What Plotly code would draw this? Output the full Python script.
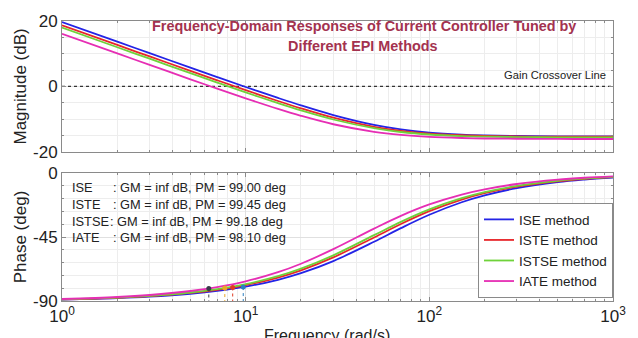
import plotly.graph_objects as go

# ---------------- data ----------------
freq = [1, 2, 3, 5, 7, 10, 15, 20, 30, 50, 70, 100, 150, 200, 300, 500, 700, 1000]

methods = ["ISE method", "ISTE method", "ISTSE method", "IATE method"]
colors = ["#2424e6", "#e8262a", "#6fd23a", "#e62eb4"]

mag_ise = [19.70, 13.68, 10.17, 5.75, 2.86, -0.17, -3.52, -5.80, -8.75, -11.75,
           -13.13, -14.10, -14.72, -14.96, -15.14, -15.24, -15.26, -15.28]
mag_iste = [18.70, 12.68, 9.17, 4.76, 1.88, -1.14, -4.46, -6.69, -9.54, -12.33,
            -13.56, -14.40, -14.92, -15.12, -15.27, -15.35, -15.37, -15.38]
mag_istse = [18.00, 11.98, 8.47, 4.06, 1.18, -1.82, -5.12, -7.33, -10.11, -12.77,
             -13.93, -14.70, -15.18, -15.36, -15.49, -15.56, -15.58, -15.59]
mag_iate = [16.10, 10.09, 6.58, 2.18, -0.68, -3.65, -6.87, -8.98, -11.56, -13.88,
            -14.82, -15.42, -15.77, -15.91, -16.00, -16.05, -16.07, -16.07]

ph_ise = [-88.98, -87.96, -86.94, -84.91, -82.90, -79.91, -75.06, -70.41, -61.91, -48.34,
          -38.76, -29.34, -20.54, -15.69, -10.61, -6.41, -4.59, -3.22]
ph_iste = [-88.87, -87.74, -86.61, -84.36, -82.12, -78.82, -73.49, -68.43, -59.34, -45.34,
           -35.87, -26.83, -18.64, -14.20, -9.57, -5.78, -4.14, -2.90]
ph_istse = [-88.80, -87.60, -86.41, -84.03, -81.67, -78.18, -72.58, -67.29, -57.89, -43.71,
            -34.33, -25.55, -17.68, -13.44, -9.05, -5.46, -3.91, -2.74]
ph_iate = [-88.59, -87.18, -85.77, -82.98, -80.22, -76.16, -69.72, -63.78, -53.54, -39.08,
           -30.11, -22.10, -15.14, -11.48, -7.71, -4.64, -3.32, -2.32]

# gain-crossover frequencies and phases (markers on the phase plot)
wc = [9.7, 8.5, 7.7, 6.3]
pc = [-80.2, -80.5, -80.9, -81.2]
marker_colors = ["#2a7fc0", "#e03a22", "#e8a628", "#3a3a4a"]

crossover_x = [1, 1000]
crossover_y = [0, 0]

info_labels = ["ISE", "ISTE", "ISTSE", "IATE"]
info_texts = [": GM = inf dB, PM = 99.00 deg",
              ": GM = inf dB, PM = 99.45 deg",
              ": GM = inf dB, PM = 99.18 deg",
              ": GM = inf dB, PM = 98.10 deg"]

x_tickvals = [1, 10, 100, 1000]
x_ticktext = ["10<sup>0</sup>", "10<sup>1</sup>", "10<sup>2</sup>", "10<sup>3</sup>"]

# ---------------- figure ----------------
W, H = 638, 338
ML, MR, MT, MB = 62, 18, 15, 32
PW, PH = W - ML - MR, H - MT - MB
FONT = "Liberation Sans, Arial, sans-serif"


def px_x(px):
    return (px - ML) / PW


def px_y(py):
    return (H - MB - py) / PH


fig = go.Figure()

mags = [mag_ise, mag_iste, mag_istse, mag_iate]
phs = [ph_ise, ph_iste, ph_istse, ph_iate]

fig.add_trace(go.Scatter(x=crossover_x, y=crossover_y, mode="lines",
                         line=dict(color="#333333", width=1.2, dash="dot"),
                         showlegend=False, hoverinfo="skip", xaxis="x", yaxis="y"))

for name, col, m in zip(methods, colors, mags):
    fig.add_trace(go.Scatter(x=freq, y=m, mode="lines", name=name,
                             line=dict(color=col, width=1.8, shape="spline"),
                             showlegend=False, xaxis="x", yaxis="y"))

for name, col, p in zip(methods, colors, phs):
    fig.add_trace(go.Scatter(x=freq, y=p, mode="lines", name=name,
                             line=dict(color=col, width=1.8, shape="spline"),
                             showlegend=True, xaxis="x2", yaxis="y2"))

for w, p, c in zip(wc, pc, marker_colors):
    fig.add_trace(go.Scatter(x=[w, w], y=[p, -90], mode="lines",
                             line=dict(color=c, width=1, dash="dot"),
                             showlegend=False, hoverinfo="skip", xaxis="x2", yaxis="y2"))
fig.add_trace(go.Scatter(x=wc, y=pc, mode="markers",
                         marker=dict(color=marker_colors, size=5),
                         showlegend=False, xaxis="x2", yaxis="y2"))

minor_x = [m * 10 ** e for e in range(3) for m in range(2, 10)]

axis_common = dict(showline=True, linecolor="#8a8a8a", linewidth=1, mirror="ticks",
                   ticks="inside", ticklen=4, tickcolor="#8a8a8a",
                   showgrid=True, gridcolor="#e0e0e0", gridwidth=1, zeroline=False,
                   tickfont=dict(family=FONT, size=17, color="#222222"))

top_dom = [px_y(151), 1.0]
bot_dom = [0.0, px_y(173)]
title_axis_font = dict(family=FONT, size=17, color="#222222")

fig.update_layout(
    width=W, height=H,
    margin=dict(l=ML, r=MR, t=MT, b=MB),
    paper_bgcolor="white", plot_bgcolor="white",
    font=dict(family=FONT, color="#222222"),
    xaxis=dict(type="log", range=[0, 3], domain=[0, 1], anchor="y",
               tickvals=x_tickvals, showticklabels=False,
               minor=dict(tickvals=minor_x, ticks="inside", ticklen=2, tickcolor="#8a8a8a",
                          showgrid=True, gridcolor="#ededed"),
               **axis_common),
    yaxis=dict(range=[-20, 20], domain=top_dom, anchor="x",
               tickvals=[-20, 0, 20], ticktext=["-20", "0", "20"],
               minor=dict(dtick=5, ticks="inside", ticklen=2, tickcolor="#8a8a8a",
                          showgrid=True, gridcolor="#ededed"),
               title=dict(text="Magnitude (dB)", standoff=2, font=title_axis_font),
               **axis_common),
    xaxis2=dict(type="log", range=[0, 3], domain=[0, 1], anchor="y2",
                tickvals=x_tickvals, ticktext=x_ticktext,
                minor=dict(tickvals=minor_x, ticks="inside", ticklen=2, tickcolor="#8a8a8a",
                           showgrid=True, gridcolor="#ededed"),
                **axis_common),
    yaxis2=dict(range=[-90, 0], domain=bot_dom, anchor="x2",
                tickvals=[-90, -45, 0], ticktext=["-90", "-45", "0"],
                minor=dict(dtick=9, ticks="inside", ticklen=2, tickcolor="#8a8a8a",
                           showgrid=True, gridcolor="#ededed"),
                title=dict(text="Phase (deg)", standoff=2, font=title_axis_font),
                **axis_common),
    legend=dict(x=1.0, xanchor="right", y=px_y(303), yanchor="bottom",
                bgcolor="white", bordercolor="#8a8a8a", borderwidth=1,
                font=dict(family=FONT, size=13.5, color="#222222"),
                itemwidth=30, tracegroupgap=0),
)

title_font = dict(family=FONT, size=14.4, color="#a3324f")
fig.add_annotation(text="<b>Frequency-Domain Responses of Current Controller Tuned by</b>",
                   xref="paper", yref="paper", x=px_x(368), y=px_y(20),
                   xanchor="center", yanchor="middle", showarrow=False, font=title_font)
fig.add_annotation(text="<b>Different EPI Methods</b>",
                   xref="paper", yref="paper", x=px_x(367), y=px_y(41),
                   xanchor="center", yanchor="middle", showarrow=False, font=title_font)

fig.add_annotation(text="Gain Crossover Line", xref="paper", yref="paper",
                   x=px_x(615), y=px_y(71), xanchor="right", yanchor="middle",
                   showarrow=False,
                   font=dict(family=FONT, size=11.2, color="#222222"))

info_font = dict(family=FONT, size=12.8, color="#222222")
rows_y = [188, 205.5, 223, 240]
colon_x = [112, 112, 108.5, 112]
for lab, txt, ry, cx in zip(info_labels, info_texts, rows_y, colon_x):
    fig.add_annotation(text=lab, xref="paper", yref="paper", x=px_x(70), y=px_y(ry),
                       xanchor="left", yanchor="middle", showarrow=False, font=info_font)
    fig.add_annotation(text=txt, xref="paper", yref="paper", x=px_x(cx), y=px_y(ry),
                       xanchor="left", yanchor="middle", showarrow=False, font=info_font)

fig.add_annotation(text="Frequency (rad/s)", xref="paper", yref="paper",
                   x=px_x(330), y=px_y(331), xanchor="center", yanchor="top",
                   showarrow=False,
                   font=dict(family=FONT, size=16, color="#222222"))

fig.write_html("out.html")
